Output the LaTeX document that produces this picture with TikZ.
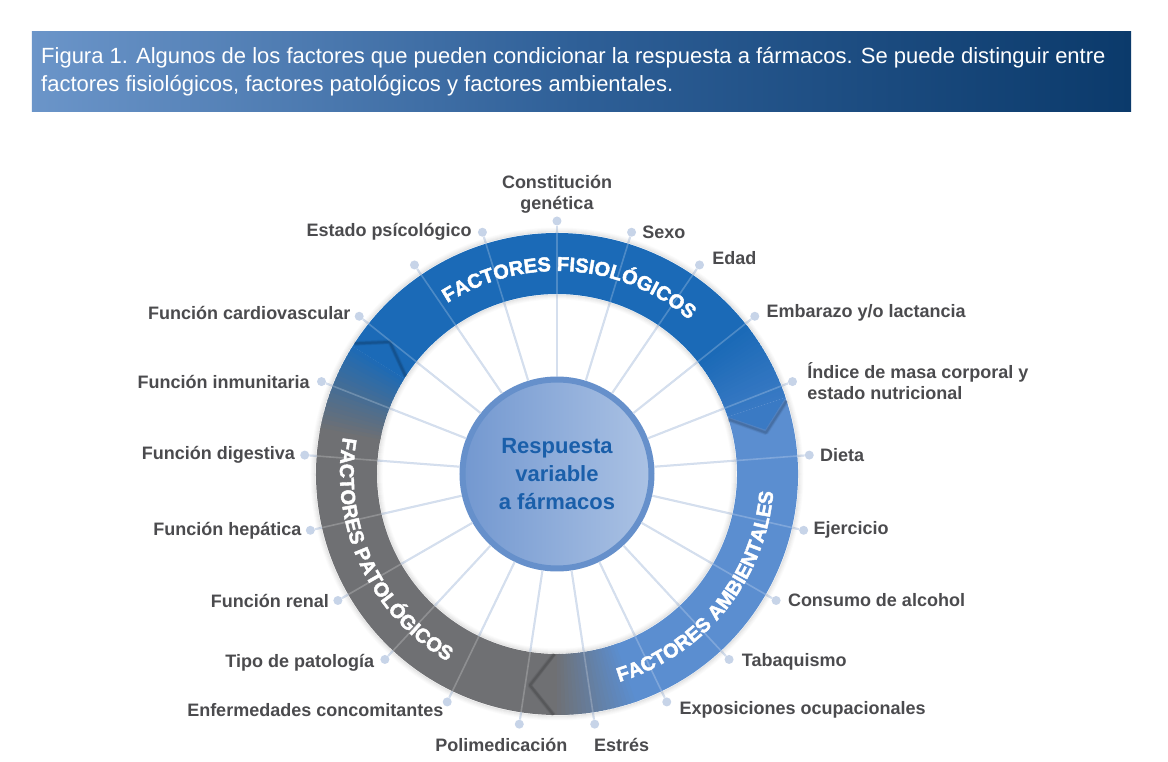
\documentclass[tikz,border=0pt]{standalone}
\usepackage{fontspec}
\setmainfont{Liberation Sans}
\newfontfamily\ringfont{Liberation Sans Bold}[FakeBold=2.2]
\usetikzlibrary{positioning,decorations.text}
\definecolor{fisBlue}{HTML}{1B6AB7}
\definecolor{fisHead}{HTML}{3A7AC4}
\definecolor{ambBlue}{HTML}{5B8ED0}
\definecolor{patGray}{HTML}{6F7073}
\definecolor{dotBlue}{HTML}{C7D4E8}
\definecolor{spokeBlue}{HTML}{CAD7EA}
\definecolor{coreEdge}{HTML}{6690CB}
\definecolor{coreL}{HTML}{7398D0}
\definecolor{coreR}{HTML}{ABC2E4}
\definecolor{coreText}{HTML}{1A5FAA}
\definecolor{labelGray}{HTML}{4B4B4E}
\definecolor{barL}{HTML}{6B95C9}
\definecolor{barM}{HTML}{2E5F97}
\definecolor{barR}{HTML}{0B3A6B}
\newcommand{\Rin}{180}
\newcommand{\Rout}{241}
\newcommand{\Rmid}{213}
\newcommand{\ringpart}[3]{\fill[#3] (#1:\Rin) arc[start angle=#1,end angle=#2,radius=\Rin] -- (#2:\Rout) arc[start angle=#2,end angle=#1,radius=\Rout] -- cycle;}
\newcommand{\ringfade}[4]{\foreach \i in {0,...,19}{%
  \pgfmathsetmacro{\fadeA}{#1+(#2-#1)*\i/20}%
  \pgfmathsetmacro{\fadeB}{#1+(#2-#1)*min(\i+1.5,20)/20}%
  \pgfmathtruncatemacro{\fadeP}{100-5*\i}%
  \ringpart{\fadeA}{\fadeB}{#3!\fadeP!#4}}}
\newcommand{\ringhead}[3]{%
  \foreach \w/\o in {5/0.05,3.5/0.07,2/0.1}
    \draw[black,opacity=\o,line width=\w pt,line join=round] (#1-0.8:\Rin) -- (#2-0.8:\Rmid) -- (#1-0.8:\Rout);
  \fill[#3] (#1:\Rin) -- (#2:\Rmid) -- (#1:\Rout) -- cycle;}

\begin{document}
\begin{tikzpicture}[x=1pt,y=1pt,
  lbl/.style={font=\bfseries\fontsize{18}{21}\selectfont,text=labelGray,inner sep=1pt},
  dot/.style={circle,fill=dotBlue,inner sep=0pt,minimum size=9pt},
  spoke/.style={draw=spokeBlue,line width=2pt},
  spokeover/.style={draw=white,opacity=0.22,line width=1.6pt},
  core/.style={circle,minimum size=189pt,draw=coreEdge,line width=6pt,left color=coreL,right color=coreR,
    text=coreText,align=center,font=\bfseries\fontsize{22}{28}\selectfont},
  ringtxt/.style={decorate,decoration={text along path,text align=center,
    text={|\ringfont\fontsize{20}{24}\selectfont\color{white}|#1}}},
  title/.style={anchor=west,align=left,text=white,inner sep=0pt,font=\fontsize{22}{28}\selectfont}]
  \useasboundingbox (-557,-288) rectangle (611,474);
  \fill[white] (-557,-288) rectangle (611,474);
  \shade[left color=barL,right color=barR,middle color=barM] (-525,362) rectangle (574,442);
  \node[title] (cap) at (-516,402) {Figura 1. Algunos de los factores que pueden condicionar la respuesta a fármacos. Se puede distinguir entre\\factores fisiológicos, factores patológicos y factores ambientales.};

  \coordinate (O) at (0,0);
  \node[core] (core) at (O) {Respuesta\\variable\\a fármacos};
  \foreach \k in {0,...,20} \node[dot] (d\k) at ({90-\k*360/21}:253) {};
  \foreach \k in {0,...,20} \draw[spoke] (d\k) -- (core);

  \foreach \k/\o in {1/0.10,2/0.07,3/0.05,4/0.03,5/0.015}{
    \draw[black,opacity=\o,line width=1pt] (O) circle[radius=\Rout+\k];
    \draw[black,opacity=\o,line width=1pt] (O) circle[radius=\Rin-\k];}
  \ringpart{148}{37}{fisBlue}
  \ringfade{38}{18.5}{fisBlue}{fisHead}
  \ringpart{18.5}{-71}{ambBlue}
  \ringfade{-70}{-90}{ambBlue}{patGray}
  \ringpart{-90}{-191}{patGray}
  \ringfade{-190}{-212}{patGray}{fisBlue}
  \ringhead{18.5}{12}{fisHead}
  \ringhead{-90}{-96.5}{patGray}
  \ringhead{-212}{-217.5}{fisBlue}
  \foreach \k in {0,...,20} \draw[spokeover] (d\k) -- (core);

  \path[ringtxt={FACTORES FISIOLÓGICOS}] (146:203) arc[start angle=146,end angle=26,radius=203];
  \path[ringtxt={FACTORES PATOLÓGICOS}] (145:217) arc[start angle=145,end angle=265,radius=217];
  \path[ringtxt={FACTORES AMBIENTALES}] (261:217) arc[start angle=261,end angle=381,radius=217];

  \node[lbl,above=2pt of d0,align=center] (l0) {Constitución\\genética};
  \node[lbl,right=5pt of d1] (l1) {Sexo};
  \node[lbl,right=7pt of d2,yshift=7pt] (l2) {Edad};
  \node[lbl,right=6pt of d3,yshift=3pt] (l3) {Embarazo y/o lactancia};
  \node[lbl,right=9pt of d4,align=left] (l4) {Índice de masa corporal y\\estado nutricional};
  \node[lbl,right=5pt of d5] (l5) {Dieta};
  \node[lbl,right=4pt of d6] (l6) {Ejercicio};
  \node[lbl,right=6pt of d7] (l7) {Consumo de alcohol};
  \node[lbl,right=7pt of d8,yshift=-2pt] (l8) {Tabaquismo};
  \node[lbl,right=7pt of d9,yshift=-8pt] (l9) {Exposiciones ocupacionales};
  \node[lbl,below=8pt of d10,xshift=27pt] (l10) {Estrés};
  \node[lbl,below=8pt of d11,xshift=-18pt] (l11) {Polimedicación};
  \node[lbl,left=-2pt of d12,yshift=-8pt] (l12) {Enfermedades concomitantes};
  \node[lbl,left=5pt of d13,yshift=-3pt] (l13) {Tipo de patología};
  \node[lbl,left=3pt of d14] (l14) {Función renal};
  \node[lbl,left=3pt of d15] (l15) {Función hepática};
  \node[lbl,left=4pt of d16] (l16) {Función digestiva};
  \node[lbl,left=6pt of d17] (l17) {Función inmunitaria};
  \node[lbl,left=3pt of d18,yshift=3pt] (l18) {Función cardiovascular};
  \node[lbl,left=5pt of d20] (l20) {Estado psícológico};
\end{tikzpicture}
\end{document}
